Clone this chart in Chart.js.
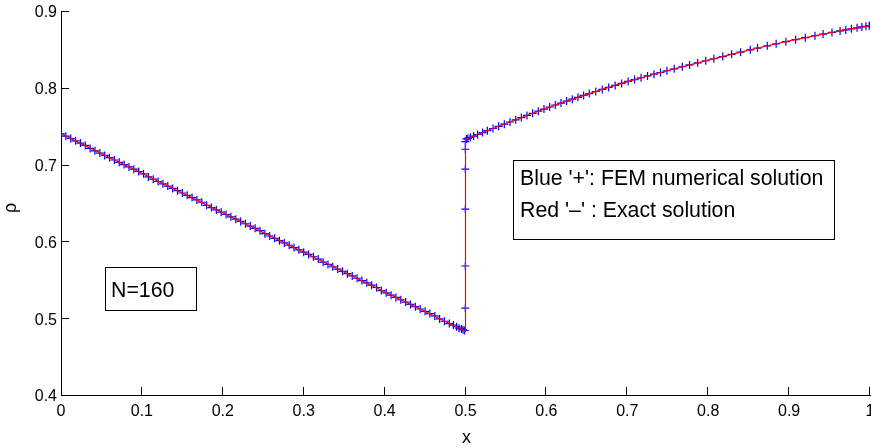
<!DOCTYPE html>
<html>
<head>
<meta charset="utf-8">
<style>
  html, body { margin: 0; padding: 0; background: #fff; }
  canvas { display: block; }
</style>
<script src="https://cdn.jsdelivr.net/npm/chart.js@4/dist/chart.umd.min.js"></script>
</head>
<body>
<canvas id="c" width="871" height="448"></canvas>
<script>
// FEM nodal values (blue '+')
const femX = [
  0.000, 0.006, 0.012, 0.018, 0.024, 0.030, 0.036, 0.042, 0.048, 0.054,
  0.060, 0.066, 0.072, 0.078, 0.084, 0.090, 0.096, 0.102, 0.108, 0.114,
  0.120, 0.126, 0.132, 0.138, 0.144, 0.150, 0.156, 0.162, 0.168, 0.174,
  0.180, 0.186, 0.192, 0.198, 0.204, 0.210, 0.216, 0.222, 0.228, 0.234,
  0.240, 0.246, 0.252, 0.258, 0.264, 0.270, 0.276, 0.282, 0.288, 0.294,
  0.300, 0.306, 0.312, 0.318, 0.324, 0.330, 0.336, 0.342, 0.348, 0.354,
  0.360, 0.366, 0.372, 0.378, 0.384, 0.390, 0.396, 0.402, 0.408, 0.414,
  0.420, 0.426, 0.432, 0.438, 0.444, 0.450, 0.456, 0.462, 0.468, 0.474,
  0.480, 0.485, 0.489, 0.492, 0.495, 0.497, 0.499,
  0.4998, 0.4998, 0.4998, 0.4998, 0.4998, 0.4998,
  0.501, 0.503, 0.506, 0.510, 0.515, 0.521, 0.527, 0.534, 0.541, 0.548,
  0.555, 0.562, 0.569, 0.576, 0.583, 0.590, 0.597, 0.604, 0.611, 0.618,
  0.625, 0.632, 0.639, 0.646, 0.653, 0.661, 0.669, 0.677, 0.685, 0.693,
  0.701, 0.709, 0.717, 0.725, 0.733, 0.741, 0.749, 0.758, 0.768, 0.777,
  0.787, 0.797, 0.807, 0.818, 0.829, 0.840, 0.852, 0.861, 0.873, 0.884,
  0.896, 0.908, 0.920, 0.932, 0.942, 0.953, 0.963, 0.970, 0.977, 0.984,
  0.990, 0.995, 0.999, 1.000
];
const femY = [
  0.740, 0.737, 0.734, 0.731, 0.728, 0.725, 0.721, 0.718, 0.715, 0.712,
  0.709, 0.706, 0.703, 0.700, 0.697, 0.694, 0.691, 0.688, 0.684, 0.681,
  0.678, 0.675, 0.672, 0.669, 0.666, 0.663, 0.660, 0.657, 0.654, 0.651,
  0.647, 0.644, 0.641, 0.638, 0.635, 0.632, 0.629, 0.626, 0.623, 0.620,
  0.617, 0.614, 0.610, 0.607, 0.604, 0.601, 0.598, 0.595, 0.592, 0.589,
  0.586, 0.583, 0.580, 0.577, 0.573, 0.570, 0.567, 0.564, 0.561, 0.558,
  0.555, 0.552, 0.549, 0.546, 0.543, 0.540, 0.536, 0.533, 0.530, 0.527,
  0.524, 0.521, 0.518, 0.515, 0.512, 0.509, 0.506, 0.503, 0.499, 0.496,
  0.493, 0.491, 0.489, 0.487, 0.486, 0.485, 0.484,
  0.513, 0.568, 0.642, 0.694, 0.720, 0.730,
  0.7334, 0.7342, 0.7355, 0.7372, 0.7392, 0.7417, 0.7442, 0.7470, 0.7499, 0.7527,
  0.7555, 0.7583, 0.7612, 0.7640, 0.7668, 0.7695, 0.7723, 0.7750, 0.7776, 0.7801,
  0.7827, 0.7852, 0.7876, 0.7901, 0.7925, 0.7952, 0.7979, 0.8005, 0.8031, 0.8057,
  0.8083, 0.8107, 0.8131, 0.8154, 0.8177, 0.8199, 0.8222, 0.8247, 0.8274, 0.8298,
  0.8325, 0.8352, 0.8378, 0.8407, 0.8436, 0.8464, 0.8495, 0.8517, 0.8546, 0.8572,
  0.8601, 0.8627, 0.8653, 0.8678, 0.8699, 0.8721, 0.8741, 0.8754, 0.8768, 0.8781,
  0.8792, 0.8801, 0.8808, 0.8810
];

// Exact solution (red '-'): linear left state, shock at x = 0.5, smooth right state
const exactX = [
  0.000, 0.500, 0.500, 0.525, 0.550, 0.575, 0.600, 0.625, 0.650, 0.675,
  0.700, 0.725, 0.750, 0.775, 0.800, 0.825, 0.850, 0.875, 0.900, 0.925,
  0.950, 0.975, 1.000
];
const exactY = [
  0.740, 0.483, 0.733, 0.7434, 0.7535, 0.7636, 0.7735, 0.7827, 0.7915, 0.7999,
  0.808, 0.8154, 0.8225, 0.8293, 0.836, 0.8426, 0.849, 0.8551, 0.861, 0.8664,
  0.8715, 0.8764, 0.881
];

const xTicks = [0, 0.1, 0.2, 0.3, 0.4, 0.5, 0.6, 0.7, 0.8, 0.9, 1];
const yTicks = [0.4, 0.5, 0.6, 0.7, 0.8, 0.9];
const xTickLabels = ['0', '0.1', '0.2', '0.3', '0.4', '0.5', '0.6', '0.7', '0.8', '0.9', '1'];
const yTickLabels = ['0.4', '0.5', '0.6', '0.7', '0.8', '0.9'];

const legendLines = ["Blue '+': FEM numerical solution", "Red '\u2013' : Exact solution"];
const meshLabel = 'N=160';

const FONT = '"Liberation Sans", Arial, Helvetica, sans-serif';

const femPoints = femX.map((x, i) => ({ x, y: femY[i] }));
const exactPoints = exactX.map((x, i) => ({ x, y: exactY[i] }));

function labelFor(list, labels, v) {
  const i = list.findIndex(t => Math.abs(t - v) < 1e-9);
  return i >= 0 ? labels[i] : '';
}

// Inward tick marks, axis titles and the annotation boxes
const decorations = {
  id: 'decorations',
  afterDatasetsDraw(chart) {
    const { ctx, chartArea: a, scales } = chart;
    ctx.save();
    ctx.strokeStyle = '#000';
    ctx.lineWidth = 1;
    ctx.beginPath();
    xTicks.slice(1).forEach(v => {
      const px = Math.round(scales.x.getPixelForValue(v)) - 0.5;
      ctx.moveTo(px, a.bottom);
      ctx.lineTo(px, a.bottom - 8);
    });
    yTicks.slice(1).forEach(v => {
      const py = Math.round(scales.y.getPixelForValue(v)) + 0.5;
      ctx.moveTo(a.left, py);
      ctx.lineTo(a.left + 8, py);
    });
    ctx.stroke();

    // axis titles
    ctx.fillStyle = '#000';
    ctx.font = '18px ' + FONT;
    ctx.textAlign = 'center';
    ctx.textBaseline = 'alphabetic';
    ctx.fillText('x', (a.left + a.right) / 2 + 1, 443);
    ctx.save();
    ctx.translate(16, 208);
    ctx.rotate(-Math.PI / 2);
    ctx.font = '18px ' + FONT;
    ctx.fillText('\u03C1', 0, 0);
    ctx.restore();

    // legend box
    ctx.fillStyle = '#fff';
    ctx.fillRect(513.5, 160.5, 321, 79);
    ctx.strokeRect(513.5, 160.5, 321, 79);
    ctx.fillStyle = '#000';
    ctx.font = '21.3px ' + FONT;
    ctx.textAlign = 'left';
    ctx.fillText(legendLines[0], 520, 185);
    ctx.fillText(legendLines[1], 520, 217);

    // mesh size box
    ctx.fillStyle = '#fff';
    ctx.fillRect(105.5, 267.5, 91, 43);
    ctx.strokeRect(105.5, 267.5, 91, 43);
    ctx.fillStyle = '#000';
    ctx.fillText(meshLabel, 111, 297);
    ctx.restore();
  }
};

new Chart(document.getElementById('c'), {
  type: 'scatter',
  data: {
    datasets: [
      {
        label: 'FEM',
        data: femPoints,
        showLine: false,
        pointStyle: 'cross',
        pointRadius: 4,
        pointBorderWidth: 1.2,
        pointBorderColor: '#0000ff',
        pointBackgroundColor: '#0000ff',
        order: 1
      },
      {
        label: 'Exact',
        data: exactPoints,
        showLine: true,
        borderColor: '#ff0000',
        borderWidth: 1.2,
        pointRadius: 0,
        tension: 0,
        fill: false,
        order: 0
      }
    ]
  },
  options: {
    responsive: false,
    animation: false,
    events: [],
    layout: { autoPadding: false, padding: { top: 11, right: 1, left: 0, bottom: 0 } },
    plugins: { legend: { display: false }, tooltip: { enabled: false } },
    scales: {
      x: {
        type: 'linear',
        min: 0, max: 1,
        afterBuildTicks(s) { s.ticks = xTicks.map(v => ({ value: v })); },
        afterFit(s) { s.height = 53; s.paddingLeft = 0; s.paddingRight = 0; },
        ticks: {
          color: '#000',
          font: { family: FONT, size: 16 },
          padding: 7,
          maxRotation: 0,
          autoSkip: false,
          callback: v => labelFor(xTicks, xTickLabels, v)
        },
        grid: { drawOnChartArea: false, drawTicks: false },
        border: { color: '#000', width: 1 }
      },
      y: {
        type: 'linear',
        min: 0.4, max: 0.9,
        afterBuildTicks(s) { s.ticks = yTicks.map(v => ({ value: v })); },
        afterFit(s) { s.width = 61; s.paddingTop = 0; s.paddingBottom = 0; },
        ticks: {
          color: '#000',
          font: { family: FONT, size: 16 },
          padding: 4,
          labelOffset: 2,
          autoSkip: false,
          callback: v => labelFor(yTicks, yTickLabels, v)
        },
        grid: { drawOnChartArea: false, drawTicks: false },
        border: { color: '#000', width: 1 }
      }
    }
  },
  plugins: [decorations]
});
</script>
</body>
</html>
